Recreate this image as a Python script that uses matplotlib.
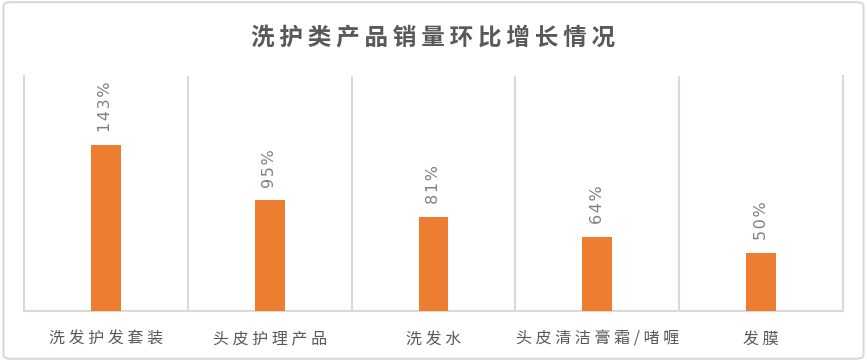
"""洗护类产品销量环比增长情况 - bar chart recreation."""

import matplotlib
matplotlib.use("Agg")
import matplotlib.pyplot as plt
from matplotlib.patches import FancyBboxPatch

plt.rcParams["font.family"] = ["Noto Sans CJK SC", "DejaVu Sans"]

categories = ["洗发护发套装", "头皮护理产品", "洗发水", "头皮清洁膏霜/啫喱", "发膜"]
growth_pct = [143, 95, 81, 64, 50]
title = "洗护类产品销量环比增长情况"

BAR_COLOR = "#ED7D31"
GRID_COLOR = "#D9D9D9"
TEXT_COLOR = "#595959"
LABEL_COLOR = "#808080"

fig = plt.figure(figsize=(8.67, 3.61), dpi=100)
fig.patch.set_facecolor("white")

# light rounded frame around the whole chart
frame = FancyBboxPatch((0.004, 0.006), 0.992, 0.988,
                       boxstyle="round,pad=0,rounding_size=0.01",
                       transform=fig.transFigure, facecolor="none",
                       edgecolor=GRID_COLOR, linewidth=1.5, zorder=-1)
fig.patches.append(frame)

ax = fig.add_axes([0.0277, 0.1385, 0.9446, 0.651])
ax.set_facecolor("none")

x = list(range(len(categories)))
ax.bar(x, growth_pct, width=0.183, color=BAR_COLOR, zorder=3)

for xi, v in zip(x, growth_pct):
    ax.annotate("\u200a".join(f"{v}%"), (xi, v), xytext=(0, 9),
                textcoords="offset points", rotation=90, ha="center",
                va="bottom", fontsize=11.5, color=LABEL_COLOR,
                family=["DejaVu Sans"])

ax.set_xlim(-0.5, len(categories) - 0.5)
ax.set_ylim(0, 202)
ax.set_yticks([])

ax.set_xticks(x)
ax.set_xticklabels([" ".join(c) for c in categories], fontsize=11.5,
                   color=TEXT_COLOR)
ax.tick_params(axis="x", which="major", length=0, pad=14)
ax.set_xticks([i - 0.5 for i in range(1, len(categories))], minor=True)
ax.tick_params(axis="x", which="minor", length=0)
ax.grid(axis="x", which="minor", color=GRID_COLOR, linewidth=1.5, zorder=0)

for side in ["left", "right", "bottom"]:
    ax.spines[side].set_color(GRID_COLOR)
    ax.spines[side].set_linewidth(1.5)
ax.spines["top"].set_visible(False)

fig.text(0.5, 0.893, "\u2009".join(title), ha="center", va="center",
         fontsize=17, fontweight="bold", color=TEXT_COLOR)

fig.savefig("out.png", dpi=100)
plt.close(fig)
